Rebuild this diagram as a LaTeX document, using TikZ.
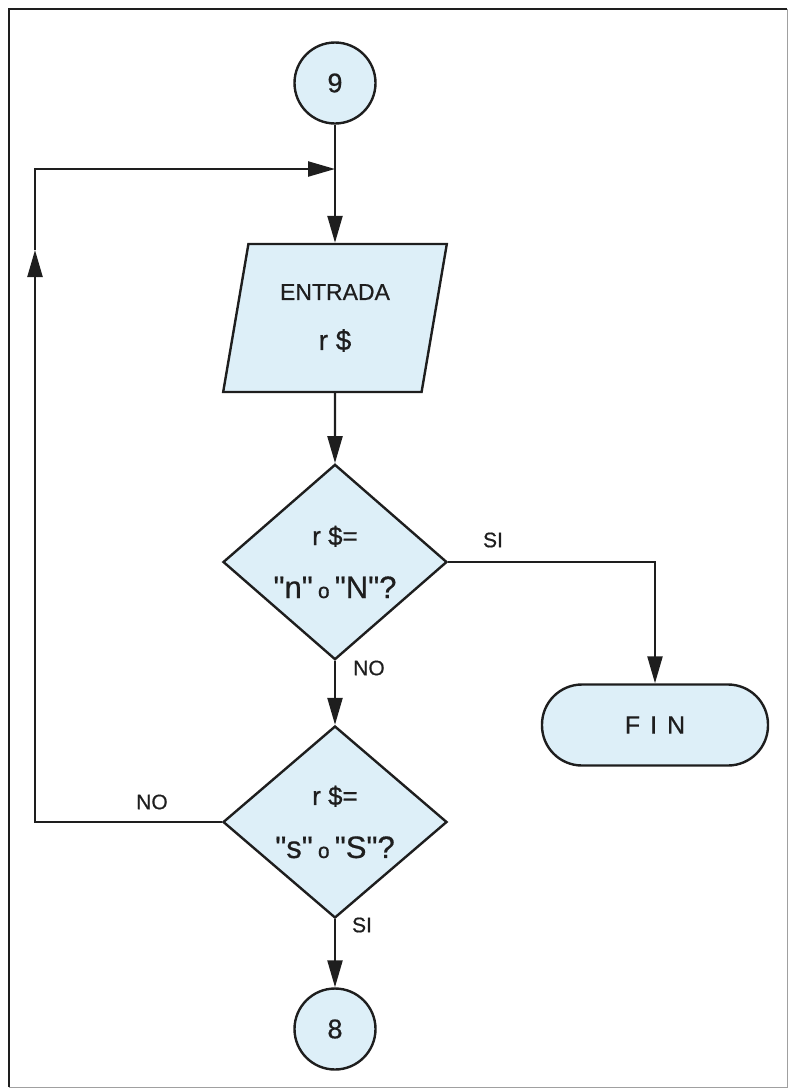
\documentclass[tikz,border=0pt]{standalone}
\usepackage{fontspec}
\setmainfont{Liberation Sans}[Ligatures=TeXOff,FakeBold=0.6]
\usepackage{xcolor}
\usetikzlibrary{arrows.meta,positioning,shapes.geometric}
\definecolor{ink}{HTML}{1E1E1E}
\definecolor{paleblue}{HTML}{DDEFF8}
\definecolor{framegray}{HTML}{A0A0A0}
\tikzset{
  >={Triangle[length=27pt,width=15pt]},
  every node/.style={text=ink},
  shapebox/.style={draw=ink,line width=2.4pt,fill=paleblue,inner sep=0pt,align=center},
  connector/.style={shapebox,circle,minimum size=81pt,font=\fontsize{27}{30}\selectfont},
  iobox/.style={shapebox,trapezium,trapezium left angle=76.7,trapezium right angle=103.3,trapezium stretches=true,minimum width=224pt,minimum height=148pt,font=\fontsize{23}{50}\selectfont},
  decision/.style={shapebox,diamond,minimum width=224pt,minimum height=166pt,font=\fontsize{26}{53}\selectfont},
  terminal/.style={shapebox,rectangle,rounded corners=40pt,minimum width=226pt,minimum height=81pt,font=\fontsize{25}{30}\selectfont},
  flow/.style={->,draw=ink,line width=2.3pt},
  lbl/.style={font=\fontsize{21}{24}\selectfont,inner sep=1pt}
}

\begin{document}
\begin{tikzpicture}[x=1pt,y=-1pt]
  \useasboundingbox (0,0) rectangle (790,1088);
  \draw[framegray,line width=1pt] (787,9) -- (787,1087) -- (9,1087);
  \draw[ink,line width=2.5pt] (9,1087) -- (9,9) -- (787,9);

  \node[connector] (c9) at (335,83) {9};
  \node[iobox] (entrada) at (335,318) {ENTRADA\\{\fontsize{28}{50}\selectfont r \$}};
  \node[decision] (askn) at (335,562) {r \$=\\{\fontsize{31}{53}\selectfont "n"\,{\fontsize{21}{21}\selectfont o}\,"N"?}};
  \node[terminal] (fin) at (655,725) {\addfontfeature{LetterSpace=40}FIN};
  \node[decision] (asks) at (335,822) {r \$=\\{\fontsize{31}{53}\selectfont "s"\,{\fontsize{21}{21}\selectfont o}\,"S"?}};
  \node[connector] (c8) at (335,1029) {8};

  \coordinate (join) at (335,169);
  \coordinate (loopbot) at (35,822);
  \coordinate (uptip) at (35,250);
  \coordinate (looptop) at (35,169);

  \draw[flow] (c9) -- (entrada);
  \draw[flow] (entrada) -- (askn);
  \draw[flow] (askn.east) -| (fin.north);
  \draw[flow] (askn) -- (asks);
  \draw[flow] (asks) -- (c8);
  \draw[flow] (asks.west) -- (loopbot) -- (uptip);
  \draw[flow] (uptip) -- (looptop) -- (join);

  \node[lbl] (si1) at (493,540) {SI};
  \node[lbl] (no1) at (369,668) {NO};
  \node[lbl] (no2) at (152,802) {NO};
  \node[lbl] (si2) at (362,925) {SI};
\end{tikzpicture}
\end{document}
